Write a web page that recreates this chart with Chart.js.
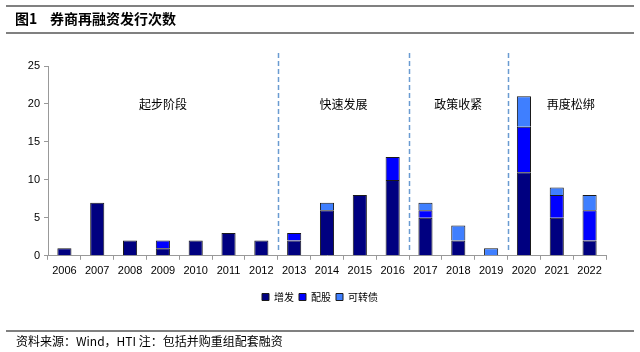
<!DOCTYPE html>
<html>
<head>
<meta charset="utf-8">
<script src="https://cdn.jsdelivr.net/npm/chart.js@4.4.0/dist/chart.umd.min.js"></script>
<style>
  html, body { margin: 0; padding: 0; background: #fff; }
  #wrap { width: 640px; height: 352px; position: relative; }
</style>
</head>
<body>
<div id="wrap"><canvas id="chart" width="640" height="352"></canvas></div>
<script>
// Data
const years = ["2006","2007","2008","2009","2010","2011","2012","2013","2014","2015","2016","2017","2018","2019","2020","2021","2022"];
const zengfa  = [1, 7, 2, 1, 2, 3, 2, 2, 6, 8, 10, 5, 2, 0, 11, 5, 2];
const peigu   = [0, 0, 0, 1, 0, 0, 0, 1, 0, 0, 3, 1, 0, 0, 6, 3, 4];
const kezhuan = [0, 0, 0, 0, 0, 0, 0, 0, 1, 0, 0, 1, 2, 1, 4, 1, 2];
const yTicks = [0, 5, 10, 15, 20, 25];
// phase dividers sit after these category indexes, labels span ranges
const dividers = [6, 10, 13];
const phases = [
  { label: "起步阶段", from: 0, to: 6 },
  { label: "快速发展", from: 7, to: 10 },
  { label: "政策收紧", from: 11, to: 13 },
  { label: "再度松绑", from: 14, to: 16 }
];

const cjk = '"Noto Sans CJK SC", sans-serif';
const latin = '"Liberation Sans", Arial, sans-serif';
// small horizontal nudges (px) for the phase captions
const phaseNudge = [0, 0, 0, 14];

// header, footer, dashed dividers and phase names
const decorPlugin = {
  id: 'decor',
  afterUpdate(chart) {
    // nudge legend so it sits centred on the page like the original
    const lg = chart.legend;
    if (lg) { lg.left += 13; lg.right += 13; }
  },
  beforeDraw(chart) {
    const ctx = chart.ctx;
    ctx.save();
    ctx.fillStyle = '#fff';
    ctx.fillRect(0, 0, chart.width, chart.height);
    ctx.strokeStyle = '#808080';
    ctx.lineWidth = 2;
    ctx.beginPath();
    ctx.moveTo(6, 6); ctx.lineTo(634, 6);
    ctx.moveTo(6, 33); ctx.lineTo(634, 33);
    ctx.moveTo(6, 331); ctx.lineTo(634, 331);
    ctx.stroke();
    ctx.fillStyle = '#000';
    ctx.textBaseline = 'middle';
    ctx.font = 'bold 14px ' + cjk;
    ctx.fillText('图1', 15, 19);
    ctx.fillText('券商再融资发行次数', 50, 19);
    ctx.font = '12px ' + cjk;
    ctx.fillText('资料来源：Wind，HTI 注：包括并购重组配套融资', 16, 341);
    ctx.restore();
  },
  afterDatasetsDraw(chart) {
    const ctx = chart.ctx;
    const x = chart.scales.x;
    const area = chart.chartArea;
    ctx.save();
    ctx.strokeStyle = '#6A9BD1';
    ctx.lineWidth = 1.5;
    ctx.setLineDash([5, 3]);
    dividers.forEach(i => {
      const px = Math.round((x.getPixelForValue(i) + x.getPixelForValue(i + 1)) / 2) + 0.5;
      ctx.beginPath();
      ctx.moveTo(px, area.top - 13);
      ctx.lineTo(px, area.bottom - 3);
      ctx.stroke();
    });
    ctx.setLineDash([]);
    ctx.fillStyle = '#000';
    ctx.font = '12px ' + cjk;
    ctx.textAlign = 'center';
    ctx.textBaseline = 'middle';
    const yPos = chart.scales.y.getPixelForValue(20);
    phases.forEach((p, k) => {
      const cx = (x.getPixelForValue(p.from) + x.getPixelForValue(p.to)) / 2 + phaseNudge[k];
      ctx.fillText(p.label, cx, yPos);
    });
    ctx.restore();
  }
};

const border = '#1a1a1a';
new Chart(document.getElementById('chart').getContext('2d'), {
  type: 'bar',
  data: {
    labels: years,
    datasets: [
      { label: '增发', data: zengfa, backgroundColor: '#000080', borderColor: border, borderWidth: 1 },
      { label: '配股', data: peigu, backgroundColor: '#0000FF', borderColor: border, borderWidth: 1 },
      { label: '可转债', data: kezhuan, backgroundColor: '#3F7FFF', borderColor: border, borderWidth: 1 }
    ]
  },
  options: {
    responsive: false,
    animation: false,
    layout: { padding: { top: 66, left: 8, right: 34, bottom: 40 } },
    datasets: { bar: { barPercentage: 0.43, categoryPercentage: 1 } },
    plugins: {
      legend: {
        position: 'bottom',
        labels: {
          boxWidth: 7, boxHeight: 7, padding: 5,
          color: '#000',
          font: { family: cjk, size: 10 }
        }
      },
      tooltip: { enabled: false }
    },
    scales: {
      x: {
        stacked: true,
        afterFit(s) { s.height += 4; },
        border: { color: '#999', width: 1 },
        grid: { offset: true, drawOnChartArea: false, tickLength: 4, color: '#999' },
        ticks: { color: '#000', font: { family: latin, size: 11 }, maxRotation: 0, autoSkip: false, padding: 5 }
      },
      y: {
        stacked: true,
        min: 0, max: 25,
        afterBuildTicks(s) { s.ticks = yTicks.map(v => ({ value: v })); },
        afterFit(s) { s.width = 40; },
        border: { color: '#999', width: 1 },
        grid: { drawOnChartArea: false, tickLength: 4, color: '#999' },
        ticks: { color: '#000', font: { family: latin, size: 11 }, padding: 4 }
      }
    }
  },
  plugins: [decorPlugin]
});
</script>
</body>
</html>
